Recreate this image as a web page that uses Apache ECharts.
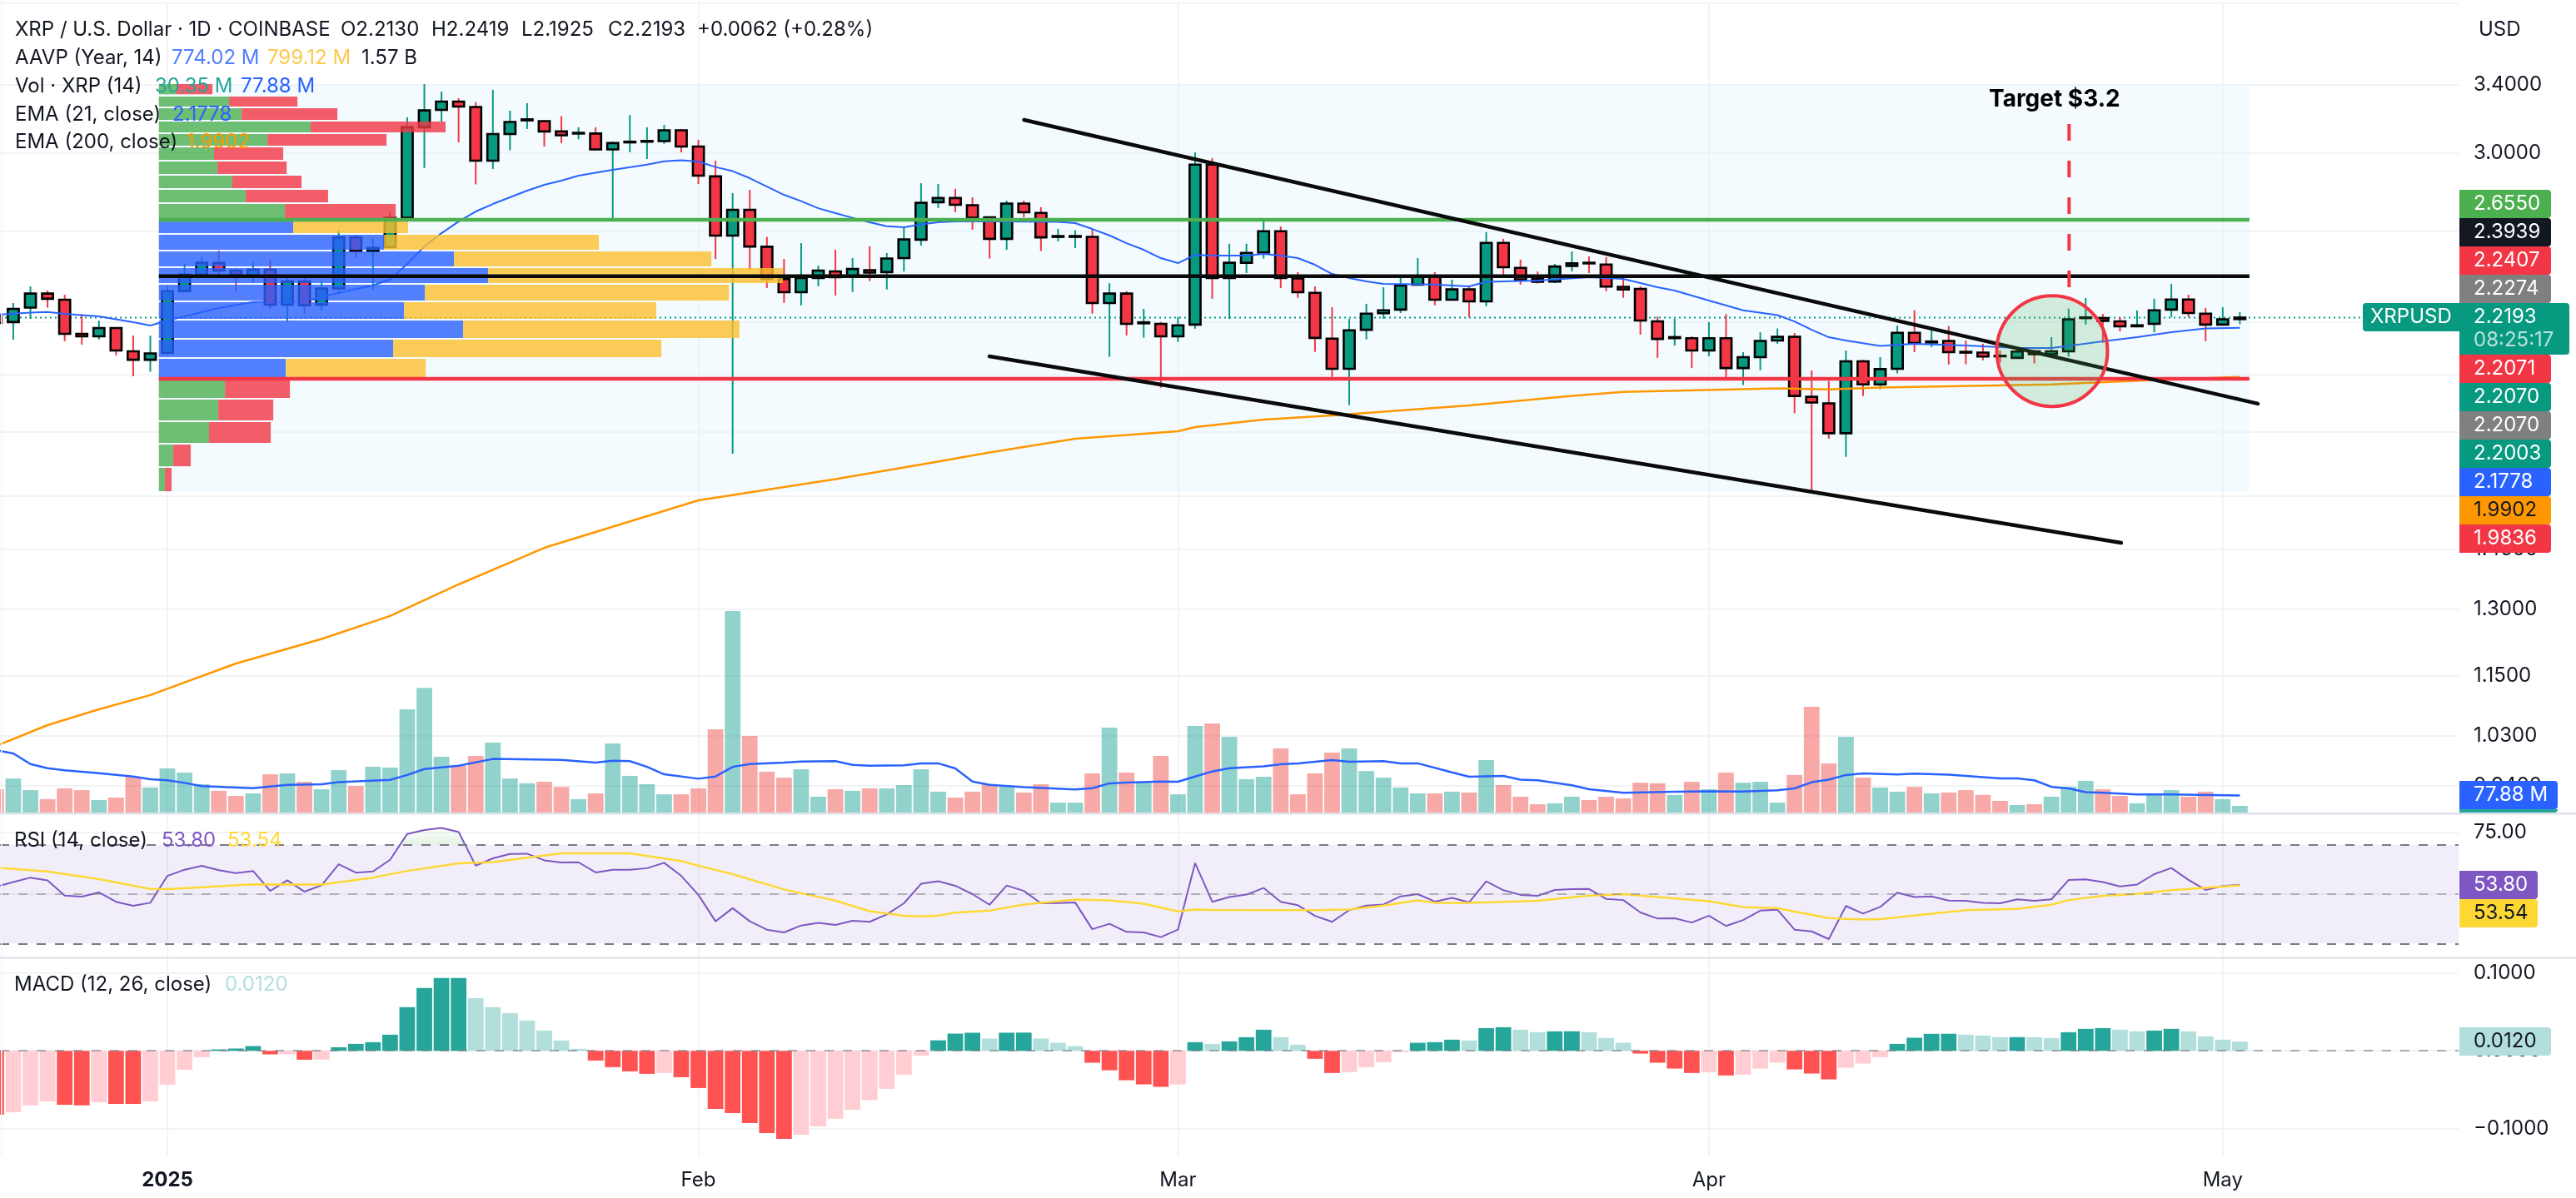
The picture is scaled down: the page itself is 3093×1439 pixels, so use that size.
<!DOCTYPE html>
<html>
<head>
<meta charset="utf-8">
<title>XRP / U.S. Dollar</title>
<script src="https://cdn.jsdelivr.net/npm/echarts@6/dist/echarts.min.js"></script>
<style>
  html, body { margin: 0; padding: 0; background: #fff; }
  #chart { width: 3093px; height: 1439px; }
</style>
</head>
<body>
<div id="chart"></div>
<script>
// daily candles, index 0 is 22 Dec 2024
const opens = [
  2.231,2.201,2.260,2.319,2.293,2.154,2.144,2.177,2.086,2.054,
  2.080,2.329,2.401,2.453,2.419,2.397,2.423,2.272,2.371,2.272,
  2.341,2.571,2.507,2.525,2.665,3.146,3.248,3.298,3.265,2.959,
  3.107,3.186,3.182,3.122,3.110,3.110,3.021,3.060,3.064,3.067,
  3.129,3.037,2.875,2.579,2.704,2.527,2.382,2.325,2.386,2.415,
  2.393,2.421,2.412,2.475,2.560,2.742,2.763,2.727,2.667,2.564,
  2.735,2.689,2.573,2.573,2.573,2.279,2.319,2.196,2.194,2.144,
  2.191,2.938,2.386,2.454,2.500,2.600,2.384,2.322,2.135,2.020,
  2.170,2.237,2.252,2.357,2.393,2.293,2.337,2.286,2.545,2.431,
  2.381,2.371,2.440,2.454,2.446,2.348,2.339,2.204,2.137,2.137,
  2.089,2.137,2.023,2.064,2.128,2.142,1.919,1.896,1.795,2.048,
  1.963,2.020,2.158,2.120,2.126,2.084,2.081,2.069,2.061,2.086,
  2.075,2.086,2.217,2.217,2.204,2.184,2.194,2.252,2.294,2.235,
  2.191,2.213
];
const closes = [
  2.197,2.255,2.319,2.297,2.154,2.144,2.177,2.089,2.054,2.078,
  2.329,2.401,2.454,2.419,2.401,2.423,2.272,2.371,2.270,2.341,
  2.571,2.507,2.522,2.665,3.146,3.245,3.298,3.268,2.959,3.107,
  3.177,3.192,3.122,3.100,3.114,3.021,3.056,3.064,3.068,3.129,
  3.037,2.879,2.579,2.704,2.528,2.382,2.325,2.386,2.419,2.390,
  2.426,2.410,2.473,2.561,2.739,2.763,2.729,2.665,2.564,2.735,
  2.692,2.571,2.577,2.577,2.279,2.319,2.194,2.200,2.144,2.188,
  2.938,2.386,2.454,2.499,2.600,2.386,2.325,2.138,2.020,2.168,
  2.235,2.249,2.354,2.393,2.293,2.337,2.286,2.545,2.434,2.379,
  2.370,2.437,2.451,2.451,2.349,2.337,2.207,2.134,2.141,2.089,
  2.137,2.023,2.064,2.126,2.142,1.922,1.899,1.795,2.048,1.963,
  2.019,2.158,2.118,2.124,2.083,2.081,2.066,2.067,2.085,2.075,
  2.086,2.212,2.220,2.206,2.184,2.188,2.249,2.294,2.238,2.191,
  2.212,2.2193
];
const lows = [
  2.184,2.131,2.214,2.260,2.125,2.112,2.131,2.070,1.993,2.009,
  2.075,2.325,2.398,2.397,2.329,2.364,2.255,2.204,2.236,2.248,
  2.329,2.475,2.336,2.517,2.660,2.920,3.179,3.060,2.833,2.914,
  3.016,3.136,3.037,3.056,3.078,3.016,2.659,3.005,2.968,3.052,
  3.005,2.835,2.471,1.729,2.423,2.343,2.280,2.269,2.350,2.311,
  2.326,2.373,2.336,2.415,2.532,2.713,2.692,2.607,2.473,2.513,
  2.667,2.507,2.552,2.521,2.235,2.065,2.148,2.139,1.951,2.122,
  2.174,2.297,2.214,2.408,2.473,2.343,2.301,2.084,1.990,1.890,
  2.132,2.214,2.238,2.353,2.270,2.289,2.221,2.266,2.401,2.358,
  2.362,2.364,2.415,2.408,2.329,2.301,2.151,2.061,2.108,2.023,
  2.067,1.987,1.961,2.015,2.115,1.862,1.614,1.777,1.719,1.922,
  1.946,2.003,2.083,2.102,2.036,2.037,2.052,2.043,2.059,2.040,
  2.061,2.065,2.191,2.119,2.164,2.182,2.160,2.221,2.221,2.125,
  2.188,2.1925
];
const highs = [
  2.252,2.279,2.350,2.332,2.314,2.233,2.207,2.180,2.147,2.147,
  2.350,2.449,2.479,2.509,2.430,2.460,2.468,2.401,2.390,2.371,
  2.603,2.583,2.565,2.696,3.204,3.405,3.359,3.318,3.295,3.370,
  3.243,3.288,3.189,3.211,3.146,3.146,3.065,3.218,3.146,3.160,
  3.136,3.075,2.959,2.788,2.805,2.573,2.471,2.544,2.441,2.513,
  2.475,2.529,2.498,2.619,2.839,2.835,2.810,2.767,2.671,2.750,
  2.750,2.717,2.611,2.605,2.611,2.364,2.329,2.255,2.202,2.222,
  3.005,2.973,2.541,2.541,2.648,2.623,2.412,2.350,2.262,2.214,
  2.276,2.346,2.390,2.475,2.412,2.379,2.353,2.595,2.564,2.468,
  2.415,2.449,2.505,2.483,2.479,2.390,2.350,2.224,2.215,2.144,
  2.201,2.233,2.083,2.160,2.175,2.157,2.014,1.975,2.089,2.054,
  2.064,2.187,2.249,2.180,2.185,2.128,2.115,2.089,2.095,2.092,
  2.141,2.256,2.300,2.234,2.221,2.248,2.297,2.360,2.314,2.259,
  2.262,2.2419
];
// [day index, value]
const ema21 = [
  [0,2.2308],[2,2.2393],[3,2.2420],[4,2.2342],[6,2.2240],[8,2.2002],[9,2.1869],[10,2.2070],[13,2.2582],[15,2.2835],
  [18,2.2859],[20,2.3221],[22,2.3543],[23,2.3796],[24,2.4486],[25,2.5283],[26,2.5908],[27,2.6467],[28,2.6958],[29,2.7330],
  [30,2.7666],[31,2.8006],[32,2.8307],[33,2.8524],[34,2.8786],[36,2.9095],[38,2.9381],[39,2.9557],[40,2.9612],[41,2.9544],
  [42,2.9247],[43,2.9028],[44,2.8655],[45,2.8221],[46,2.7793],[47,2.7473],[48,2.7120],[49,2.6875],[50,2.6647],[51,2.6428],
  [52,2.6237],[53,2.6185],[54,2.6325],[55,2.6428],[56,2.6467],[58,2.6467],[62,2.6447],[63,2.6388],[64,2.6106],[65,2.5802],
  [66,2.5437],[67,2.5129],[68,2.4749],[69,2.4523],[70,2.4899],[71,2.4861],[73,2.4861],[74,2.4937],[75,2.4861],[76,2.4749],
  [77,2.4448],[78,2.4041],[79,2.3857],[80,2.3712],[81,2.3604],[84,2.3579],[86,2.3496],[87,2.3694],[90,2.3748],[93,2.3893],
  [95,2.3821],[96,2.3640],[97,2.3461],[98,2.3319],[100,2.2894],[102,2.2491],[104,2.2291],[105,2.2036],[106,2.1702],[107,2.1407],
  [108,2.1277],[110,2.1070],[112,2.1147],[115,2.1083],[118,2.0986],[120,2.0986],[121,2.1067],[123,2.1244],[125,2.1407],[127,2.1603],
  [129,2.1751],[131,2.1778]
];
const ema200 = [
  [0,1.0116],[3,1.0510],[6,1.0818],[9,1.1105],[14,1.1767],[19,1.2308],[23,1.2839],[27,1.3604],[32,1.4548],[38,1.5419],
  [41,1.5871],[49,1.6500],[54,1.6949],[58,1.7330],[63,1.7768],[69,1.8017],[70,1.8153],[74,1.8404],[78,1.8547],[86,1.8891],
  [92,1.9224],[95,1.9364],[104,1.9492],[107,1.9455],[110,1.9516],[120,1.9632],[126,1.9791],[131,1.9902]
];
// volume in millions
const volumes = [
  106,155,102,61,110,102,57,68,163,114,201,182,129,99,76,87,174,178,140,106,
  193,121,208,205,470,568,254,212,258,318,155,133,140,117,61,87,315,167,129,83,
  83,110,379,917,349,186,159,197,72,106,99,110,110,125,197,95,68,95,129,117,
  91,129,45,45,178,387,182,136,258,83,394,406,345,152,163,292,83,178,273,292,
  189,159,114,87,87,95,91,239,125,72,38,42,72,57,72,64,136,133,80,140,
  106,182,136,140,45,171,481,224,345,159,114,95,117,87,91,102,80,53,34,38,
  72,117,144,106,76,42,83,102,72,95,61,30.35
];
const volumeMa = [
  [0,284],[1,269],[2,221],[3,202],[4,192],[6,179],[8,164],[9,152],[10,147],[11,135],[12,120],[15,111],[17,126],[19,129],[20,138],
  [23,149],[24,171],[25,198],[27,213],[29,244],[33,240],[35,227],[36,236],[37,234],[38,208],[39,174],[41,154],[42,164],[43,208],[44,221],
  [46,227],[47,232],[49,234],[50,217],[51,213],[53,215],[54,224],[55,224],[56,201],[57,141],[58,126],[60,116],[63,105],[64,111],[65,133],
  [66,136],[68,141],[69,140],[70,164],[71,187],[72,202],[74,210],[75,220],[76,224],[78,239],[79,231],[81,234],[82,224],[83,224],[85,183],
  [86,163],[88,167],[89,150],[90,147],[92,124],[93,106],[95,90],[98,95],[100,97],[102,96],[104,101],[105,110],[106,138],[107,150],[108,171],
  [109,178],[111,173],[112,177],[114,172],[117,155],[118,155],[119,147],[120,117],[121,110],[122,93],[123,90],[125,82],[127,82],[131,77.88]
];
const rsi = [
  53.0,54.9,56.7,55.6,49.4,49.0,50.7,46.9,45.3,46.5,57.4,59.9,61.5,59.7,58.5,59.4,51.3,55.6,51.0,53.6,
  62.1,58.7,59.2,63.9,74.4,76.0,76.8,75.2,61.5,64.5,66.3,66.4,63.7,62.8,62.9,58.8,59.9,59.9,60.5,62.7,
  57.4,49.7,39.0,44.3,39.0,35.6,34.5,37.3,38.4,37.5,39.2,38.8,41.8,46.3,54.2,55.2,53.4,50.0,45.7,53.5,
  51.3,46.3,46.4,46.6,35.8,38.0,34.7,34.5,32.6,35.6,62.6,46.9,48.8,49.8,52.5,46.9,45.5,41.2,38.8,43.5,
  45.4,45.8,49.1,50.0,47.0,48.5,46.7,55.2,51.6,49.7,49.3,51.7,52.0,52.1,48.1,47.6,42.6,40.1,40.2,38.5,
  41.3,37.1,39.5,43.3,43.7,35.6,34.9,31.8,45.2,42.1,44.8,50.6,48.8,49.1,47.4,47.3,46.5,46.3,47.9,47.3,
  47.9,55.7,56.0,54.9,53.1,53.9,58.1,60.6,55.8,51.7,53.3,53.80
];
const rsiMa = [
  [0,60.7],[3,59.2],[6,56.1],[9,52.1],[10,52.0],[15,54.0],[19,53.9],[22,56.7],[24,59.4],[27,62.5],[29,63.0],[33,66.5],[37,66.5],
  [40,63.4],[41,61.5],[43,58.1],[46,51.9],[49,47.4],[51,43.1],[53,41.2],[54,41.0],[55,41.3],[56,42.5],[58,43.3],[60,45.8],[63,47.8],
  [65,47.5],[67,46.1],[69,43.0],[70,43.8],[71,43.6],[77,43.5],[79,43.8],[81,45.4],[83,47.5],[84,46.5],[86,46.5],[90,47.3],[93,49.4],
  [95,50.0],[97,48.8],[100,47.1],[102,44.8],[104,44.3],[107,40.3],[109,39.7],[110,39.9],[115,43.5],[118,44.0],[120,45.7],[121,47.6],
  [123,49.3],[125,50.1],[127,51.6],[131,53.54]
];
const rsiOverbought = [[23.58,70],[24,74.4],[25,76.0],[26,76.8],[27,75.2],[27.38,70]];
const macdHist = [
  -.0820,-.0788,-.0702,-.0649,-.0692,-.0702,-.0660,-.0681,-.0682,-.0649,-.0435,-.0242,-.0082,.0018,.0029,.0061,-.0046,-.0045,-.0114,-.0113,
  .0046,.0089,.0111,.0207,.0560,.0806,.0934,.0936,.0677,.0560,.0485,.0389,.0260,.0132,.0025,-.0125,-.0210,-.0264,-.0296,-.0285,
  -.0339,-.0478,-.0745,-.0799,-.0927,-.1055,-.1130,-.1077,-.0970,-.0873,-.0756,-.0635,-.0488,-.0307,-.0061,.0135,.0221,.0232,.0157,.0233,
  .0234,.0157,.0103,.0061,-.0153,-.0250,-.0378,-.0431,-.0463,-.0431,.0111,.0089,.0121,.0175,.0271,.0175,.0078,-.0103,-.0285,-.0274,
  -.0210,-.0146,-.0018,.0103,.0111,.0143,.0132,.0292,.0303,.0271,.0239,.0250,.0251,.0239,.0164,.0103,-.0036,-.0153,-.0228,-.0285,
  -.0274,-.0317,-.0307,-.0228,-.0153,-.0239,-.0292,-.0367,-.0217,-.0164,-.0082,.0089,.0168,.0218,.0219,.0207,.0196,.0175,.0176,.0175,
  .0164,.0239,.0282,.0292,.0271,.0250,.0260,.0282,.0250,.0185,.0143,.0120
];
// visible range volume profile, widths are in bars
const profileTop = [3.4052,3.3281,3.2577,3.1791,3.1071,3.0322,2.9545,2.8788,2.8050,2.7332,2.6469,2.5830,2.5053,2.4300,2.3569,2.2826,2.2072,2.1310,2.0575,1.9865,1.9090,1.8320,1.7580,1.6845];
const profileBottom = [3.3418,3.2677,3.1889,3.1166,3.0414,2.9635,2.8876,2.8136,2.7415,2.6631,2.5908,2.5129,2.4374,2.3640,2.2895,2.2139,2.1375,2.0638,1.9895,1.9150,1.8376,1.7634,1.6895,1.6140];
const profileBuy = [.99,4.10,4.83,8.86,6.34,3.22,3.42,4.29,5.07,7.36,7.84,13.14,17.23,19.22,15.53,14.31,17.76,13.68,7.41,3.86,3.47,2.93,.84,.35];
const profileSell = [2.14,3.99,5.59,7.88,6.95,4.04,4.04,4.04,4.81,6.47,6.71,12.55,15.03,17.21,17.75,14.73,16.14,15.66,8.17,3.79,3.21,3.60,1.02,.39];
const valueAreaRows = [10, 18];
const profileRange = [9.5, 131.56, 3.4052, 1.6116];

const priceTicks = [3.4, 3.0, 2.6, 2.2, 2.0, 1.8, 1.6, 1.45, 1.3, 1.15, 1.03, 0.94];
const rsiTicks = [75, 50];
const macdTicks = [0.1, 0, -0.1];
const monthTicks = [10, 41, 69, 100, 130];
const monthLabels = ["2025", "Feb", "Mar", "Apr", "May"];

const supportLevel = 1.9836;
const midLevel = 2.3939;
const upperLevel = 2.655;
const lastClose = 2.2193;
const levelRange = [9.5, 131.56];
const upperTrend = [[60.01, 3.1889], [132.05, 1.8949]];
const lowerTrend = [[57.99, 2.0668], [124.07, 1.4681]];
const targetLine = [[121.03, 3.1646], [121.03, 2.346]];
const breakoutCenter = [120.04, 2.0868];

const badgeLabels = ["2.6550", "2.3939", "2.2407", "2.2274", "2.2193", "2.2071", "2.2070", "2.2070", "2.2003", "2.1778", "1.9902", "1.9836"];
const badgeFills = ["#4caf50", "#131722", "#f23645", "#808080", "#089981", "#f23645", "#089981", "#808080", "#089981", "#2962ff", "#ff9800", "#f23645"];

const UP = "#089981";
const DOWN = "#f23645";
const GRID_COLOR = "#f2f3f5";
const FONT = "Inter, 'Noto Sans', sans-serif";
const X_MIN = 0.2237;
const X_MAX = 143.77;
const days = opens.map((_, index) => index);

function buildXAxis(gridIndex, withLabels) {
  return {
    type: "value",
    gridIndex,
    min: X_MIN,
    max: X_MAX,
    axisLine: { show: false },
    axisTick: { show: false, customValues: monthTicks },
    splitLine: { show: true, lineStyle: { color: GRID_COLOR, width: 2 } },
    axisLabel: {
      show: withLabels,
      customValues: monthTicks,
      margin: 18,
      fontFamily: FONT,
      fontSize: 24,
      color: "#131722",
      formatter: (value) => {
        const label = monthLabels[monthTicks.indexOf(value)];
        return label === "2025" ? `{year|${label}}` : label;
      },
      rich: { year: { fontFamily: FONT, fontSize: 24, fontWeight: "bold", color: "#131722" } },
    },
  };
}

function buildYAxis(extra, ticks, formatter) {
  return Object.assign({
    position: "right",
    axisLine: { show: false },
    axisTick: { show: false, customValues: ticks },
    splitLine: { show: true, lineStyle: { color: GRID_COLOR, width: 2 } },
    axisLabel: {
      customValues: ticks,
      margin: 18,
      fontFamily: FONT,
      fontSize: 24,
      color: "#131722",
      formatter,
    },
  }, extra);
}

function renderCandle(params, api) {
  const index = api.value(0);
  const open = api.value(1);
  const close = api.value(2);
  const top = api.coord([index, Math.max(open, close)]);
  const bottom = api.coord([index, Math.min(open, close)]);
  const wickTop = api.coord([index, api.value(4)]);
  const wickBottom = api.coord([index, api.value(3)]);
  const fill = close >= open ? UP : DOWN;
  return {
    type: "group",
    children: [
      { type: "line", shape: { x1: top[0], y1: wickTop[1], x2: top[0], y2: wickBottom[1] }, style: { stroke: fill, lineWidth: 2 } },
      { type: "rect", shape: { x: top[0] - 6.6, y: top[1], width: 13.2, height: bottom[1] - top[1] }, style: { fill, stroke: "#000", lineWidth: 2.6 } },
    ],
  };
}

function renderProfileRow(params, api) {
  const row = params.dataIndex;
  const inValueArea = row >= valueAreaRows[0] && row <= valueAreaRows[1];
  const start = profileRange[0];
  const split = start + api.value(3);
  const end = split + api.value(4);
  const a = api.coord([start, api.value(1)]);
  const b = api.coord([split, api.value(2)]);
  const c = api.coord([end, api.value(1)]);
  return {
    type: "group",
    children: [
      { type: "rect", shape: { x: a[0], y: a[1], width: b[0] - a[0], height: b[1] - a[1] }, style: { fill: inValueArea ? "rgba(41,98,255,0.8)" : "rgba(76,175,80,0.8)" } },
      { type: "rect", shape: { x: b[0], y: a[1], width: c[0] - b[0], height: b[1] - a[1] }, style: { fill: inValueArea ? "rgba(251,192,45,0.8)" : "rgba(242,54,69,0.8)" } },
    ],
  };
}

function renderBand(params, api) {
  const a = api.coord([api.value(0), api.value(2)]);
  const b = api.coord([api.value(1), api.value(3)]);
  return { type: "rect", shape: { x: a[0], y: a[1], width: b[0] - a[0], height: b[1] - a[1] }, style: { fill: "rgba(225,245,254,0.4)" } };
}

function renderCircle(params, api) {
  const center = api.coord([api.value(0), api.value(1)]);
  return { type: "circle", shape: { cx: center[0], cy: center[1], r: 66.5 }, style: { fill: "rgba(76,175,80,0.2)", stroke: "#f23645", lineWidth: 4 } };
}

function lineMark(name, data, color, width, z, extra) {
  return Object.assign({
    name,
    type: "line",
    xAxisIndex: 0,
    yAxisIndex: 0,
    data,
    symbol: "none",
    silent: true,
    z,
    lineStyle: { color, width },
  }, extra || {});
}

function textItem(text, x, y, color, font) {
  return {
    type: "text",
    z: 60,
    silent: true,
    x,
    y,
    style: { text, fill: color, font: font || `24px ${FONT}`, textVerticalAlign: "middle", verticalAlign: "middle" },
  };
}

function boxItem(x, y, width, height, fill, radius) {
  return { type: "rect", z: 50, silent: true, shape: { x, y, width, height, r: radius || 0 }, style: { fill } };
}

function buildGraphics() {
  const items = [
    boxItem(1, 0, 1.6, 1388, "#f0f3fa"),
    boxItem(0, 3, 2952, 2, "#f0f3fa"),
    boxItem(0, 976, 3093, 2.4, "#e0e3eb"),
    boxItem(0, 1149.4, 3093, 2.4, "#e0e3eb"),
  ];

  // header rows
  const black = "#131722";
  items.push(textItem("XRP / U.S. Dollar · 1D · COINBASE", 18, 36, black));
  items.push(textItem("O2.2130", 409, 36, black));
  items.push(textItem("H2.2419", 518, 36, black));
  items.push(textItem("L2.1925", 626, 36, black));
  items.push(textItem("C2.2193", 730, 36, black));
  items.push(textItem("+0.0062 (+0.28%)", 837, 36, black));
  items.push(textItem("AAVP (Year, 14)", 18, 70, black));
  items.push(textItem("774.02 M", 206, 70, "#5080ff"));
  items.push(textItem("799.12 M", 321, 70, "#fbc94f"));
  items.push(textItem("1.57 B", 434, 70, black));
  items.push(textItem("Vol · XRP (14)", 18, 104, black));
  items.push(textItem("30.35 M", 186, 104, "#26a69a"));
  items.push(textItem("77.88 M", 289, 104, "#2962ff"));
  items.push(textItem("EMA (21, close)", 18, 138, black));
  items.push(textItem("2.1778", 207, 138, "#2962ff"));
  items.push(textItem("EMA (200, close)", 18, 171, black));
  items.push(textItem("1.9902", 224, 171, "#ff9800"));
  items.push(textItem("RSI (14, close)", 17, 1010, black));
  items.push(textItem("53.80", 194, 1010, "#7e57c2"));
  items.push(textItem("53.54", 273, 1010, "#fdd835"));
  items.push(textItem("MACD (12, 26, close)", 17, 1183, black));
  items.push(textItem("0.0120", 270, 1183, "#b2dfdb"));
  items.push(textItem("USD", 2976, 36, black));
  items.push(textItem("Target $3.2", 2388, 120, "#000", `bold 28px ${FONT}`));

  // price scale badges
  badgeLabels.forEach((label, index) => {
    const isLast = index === 4;
    const top = index <= 4 ? 228 + 34 * index : 426 + 34 * (index - 5);
    const height = isLast ? 62 : 34;
    items.push(boxItem(2953, top, isLast ? 132 : 110, height, badgeFills[index], [0, 4, 4, 0]));
    items.push(textItem(label, 2970, top + 17, badgeFills[index] === "#ff9800" ? "#131722" : "#fff"));
  });
  items.push(boxItem(2837, 364, 116, 34, UP, [4, 0, 0, 4]));
  items.push(textItem("XRPUSD", 2846, 381, "#fff"));
  items.push(textItem("08:25:17", 2970, 409, "rgba(255,255,255,0.72)"));

  items.push(boxItem(2953, 972, 118, 4, "#26a69a", [0, 0, 4, 0]));
  items.push(boxItem(2953, 938, 118, 34, "#2962ff", [0, 4, 4, 0]));
  items.push(textItem("77.88 M", 2970, 955, "#fff"));
  items.push(boxItem(2953, 1046, 94, 34, "#7e57c2", [0, 4, 4, 0]));
  items.push(textItem("53.80", 2970, 1063, "#fff"));
  items.push(boxItem(2953, 1080, 94, 34, "#fdd835", [0, 4, 4, 0]));
  items.push(textItem("53.54", 2970, 1097, "#131722"));
  items.push(boxItem(2953, 1234, 110, 34, "#b2dfdb", [0, 4, 4, 0]));
  items.push(textItem("0.0120", 2970, 1251, "#131722"));
  return items;
}

const chart = echarts.init(document.getElementById("chart"));
chart.setOption({
  animation: false,
  backgroundColor: "#fff",
  grid: [
    { left: 0, top: 4, width: 2952, height: 972 },
    { left: 0, top: 978, width: 2952, height: 172 },
    { left: 0, top: 1151, width: 2952, height: 237 },
  ],
  xAxis: [buildXAxis(0, false), buildXAxis(1, false), buildXAxis(2, true)],
  yAxis: [
    buildYAxis({ type: "log", gridIndex: 0, min: 0.8953, max: 3.9489 }, priceTicks, (value) => value.toFixed(4)),
    { type: "value", gridIndex: 0, min: 0, max: 3684, show: false },
    buildYAxis({ type: "value", gridIndex: 1, min: 24.37, max: 82.38 }, rsiTicks, (value) => value.toFixed(2)),
    buildYAxis({ type: "value", gridIndex: 2, min: -0.1345, max: 0.1189 }, macdTicks, (value) => (value < 0 ? "\u2212" : "") + Math.abs(value).toFixed(4)),
  ],
  graphic: { elements: buildGraphics() },
  series: [
    {
      name: "Range",
      type: "custom",
      xAxisIndex: 0,
      yAxisIndex: 0,
      z: 1,
      silent: true,
      renderItem: renderBand,
      encode: { x: [0, 1], y: [2, 3] },
      data: [profileRange],
    },
    {
      name: "Vol",
      type: "bar",
      xAxisIndex: 0,
      yAxisIndex: 1,
      barWidth: 18.8,
      z: 2,
      silent: true,
      data: days.map((day) => ({
        value: [day, volumes[day]],
        itemStyle: { color: closes[day] >= opens[day] ? "rgba(38,166,154,0.5)" : "rgba(239,83,80,0.5)" },
      })),
    },
    {
      name: "Vol MA",
      type: "line",
      xAxisIndex: 0,
      yAxisIndex: 1,
      data: volumeMa,
      symbol: "none",
      silent: true,
      z: 3,
      lineStyle: { color: "#2962ff", width: 2.5 },
    },
    lineMark("Last", [[X_MIN, lastClose], [X_MAX, lastClose]], UP, 2, 3, { lineStyle: { color: UP, width: 2, type: [2, 4] } }),
    {
      name: "XRPUSD",
      type: "custom",
      xAxisIndex: 0,
      yAxisIndex: 0,
      z: 4,
      silent: true,
      renderItem: renderCandle,
      encode: { x: 0, y: [1, 2, 3, 4] },
      data: days.map((day) => [day, opens[day], closes[day], lows[day], highs[day]]),
    },
    lineMark("EMA 200", ema200, "#ff9800", 2.5, 5),
    lineMark("EMA 21", ema21, "#2962ff", 2, 5),
    {
      name: "AAVP",
      type: "custom",
      xAxisIndex: 0,
      yAxisIndex: 0,
      z: 6,
      silent: true,
      renderItem: renderProfileRow,
      encode: { x: 0, y: [1, 2] },
      data: profileTop.map((top, row) => [profileRange[0], top, profileBottom[row], profileBuy[row], profileSell[row]]),
    },
    lineMark("Upper level", levelRange.map((day) => [day, upperLevel]), "#4caf50", 4.5, 7),
    lineMark("Mid level", levelRange.map((day) => [day, midLevel]), "#0a0a0a", 4.5, 7),
    lineMark("Support", levelRange.map((day) => [day, supportLevel]), "#f23645", 4.5, 7),
    lineMark("Upper trend", upperTrend, "#0a0a0a", 4.5, 7, { lineStyle: { color: "#0a0a0a", width: 4.5, cap: "round" } }),
    lineMark("Lower trend", lowerTrend, "#0a0a0a", 4.5, 7, { lineStyle: { color: "#0a0a0a", width: 4.5, cap: "round" } }),
    lineMark("Target", targetLine, "#f23645", 4, 7, { lineStyle: { color: "#f23645", width: 4, type: [20, 24] } }),
    {
      name: "Breakout",
      type: "custom",
      xAxisIndex: 0,
      yAxisIndex: 0,
      z: 8,
      silent: true,
      renderItem: renderCircle,
      encode: { x: 0, y: 1 },
      data: [breakoutCenter],
    },
    {
      name: "RSI",
      type: "line",
      xAxisIndex: 1,
      yAxisIndex: 2,
      data: days.map((day) => [day, rsi[day]]),
      symbol: "none",
      silent: true,
      z: 4,
      lineStyle: { color: "#7e57c2", width: 2 },
      markArea: {
        silent: true,
        itemStyle: { color: "rgba(126,87,194,0.1)" },
        data: [[{ yAxis: 30 }, { yAxis: 70 }]],
      },
      markLine: {
        silent: true,
        symbol: "none",
        label: { show: false },
        data: [
          { yAxis: 70, lineStyle: { color: "#787b86", width: 2, type: [11, 11] } },
          { yAxis: 50, lineStyle: { color: "rgba(120,123,134,0.5)", width: 2, type: [11, 11] } },
          { yAxis: 30, lineStyle: { color: "#787b86", width: 2, type: [11, 11] } },
        ],
      },
    },
    {
      name: "RSI overbought",
      type: "line",
      xAxisIndex: 1,
      yAxisIndex: 2,
      data: rsiOverbought,
      symbol: "none",
      silent: true,
      z: 3,
      lineStyle: { opacity: 0 },
      areaStyle: {
        origin: 70,
        opacity: 1,
        color: {
          type: "linear", x: 0, y: 0, x2: 0, y2: 1,
          colorStops: [{ offset: 0, color: "rgba(76,175,80,0)" }, { offset: 1, color: "rgba(76,175,80,0.16)" }],
        },
      },
    },
    {
      name: "RSI MA",
      type: "line",
      xAxisIndex: 1,
      yAxisIndex: 2,
      data: rsiMa,
      symbol: "none",
      silent: true,
      z: 4,
      lineStyle: { color: "#fdd835", width: 2.5 },
    },
    {
      name: "MACD",
      type: "bar",
      xAxisIndex: 2,
      yAxisIndex: 3,
      barWidth: 18.8,
      silent: true,
      z: 3,
      data: days.map((day) => {
        const value = macdHist[day];
        const previous = day > 0 ? macdHist[day - 1] : value;
        const rising = value > previous;
        let color;
        if (value >= 0) {
          color = rising ? "#26a69a" : "#b2dfdb";
        } else {
          color = rising ? "#ffcdd2" : "#ff5252";
        }
        return { value: [day, value], itemStyle: { color } };
      }),
      markLine: {
        silent: true,
        symbol: "none",
        label: { show: false },
        z: 5,
        data: [{ yAxis: 0, lineStyle: { color: "rgba(120,123,134,0.6)", width: 2, type: [11, 11] } }],
      },
    },
  ],
});

window.addEventListener("resize", () => chart.resize());
</script>
</body>
</html>
